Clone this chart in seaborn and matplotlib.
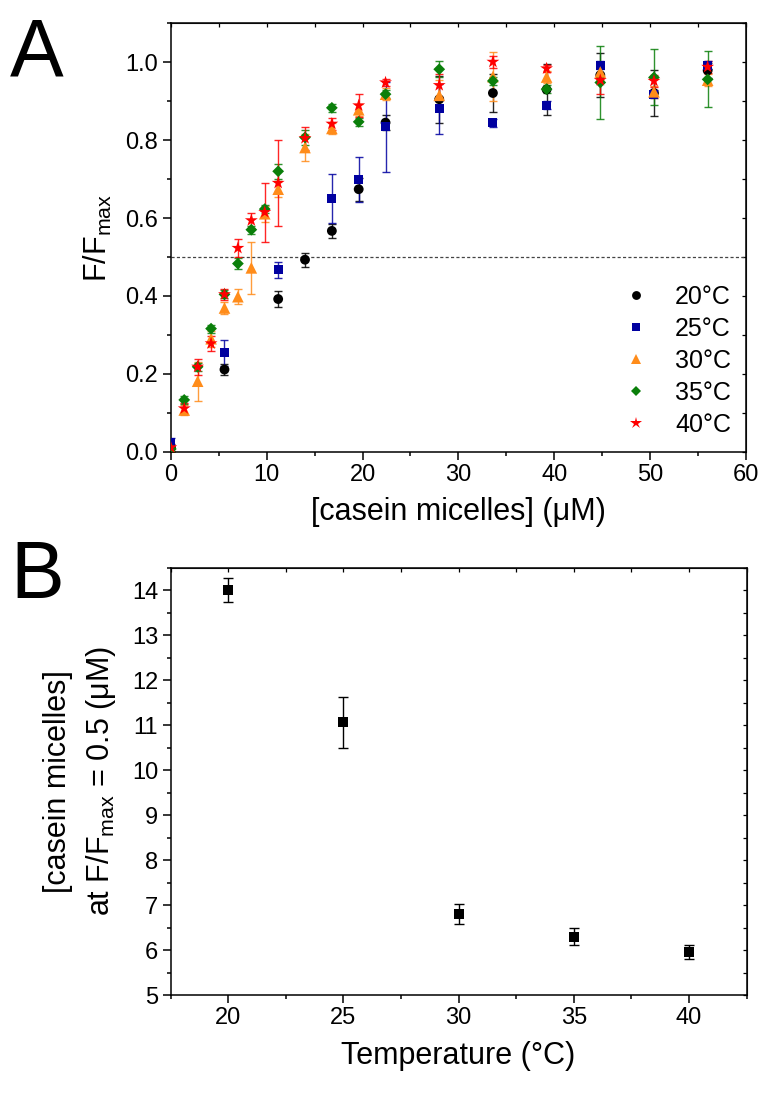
import numpy as np
import pandas as pd
import seaborn as sns
import matplotlib.pyplot as plt
from matplotlib.ticker import MultipleLocator

sns.set_style('ticks')
plt.rcParams['font.family'] = ['Liberation Sans', 'DejaVu Sans']
plt.rcParams['mathtext.fontset'] = 'custom'
plt.rcParams['mathtext.rm'] = 'Liberation Sans'
plt.rcParams['mathtext.it'] = 'Liberation Sans'
for k in ('text.color', 'axes.labelcolor', 'xtick.color', 'ytick.color'):
    plt.rcParams[k] = 'black'

# ---- panel A data: F/Fmax vs casein micelle concentration ----
conc_20 = [0, 5.6, 11.2, 14.0, 16.8, 19.6, 22.4, 28.0, 33.6, 39.2, 44.8, 50.4, 56.0]
f_20 = [0.01, 0.211, 0.392, 0.493, 0.567, 0.674, 0.845, 0.905, 0.921, 0.93, 0.967, 0.921, 0.979]
err_20 = [0.01, 0.015, 0.02, 0.018, 0.018, 0.03, 0.02, 0.06, 0.05, 0.065, 0.057, 0.06, 0.02]

conc_25 = [0, 5.6, 11.2, 16.8, 19.6, 22.4, 28.0, 33.6, 39.2, 44.8, 50.4, 56.0]
f_25 = [0.024, 0.254, 0.467, 0.65, 0.699, 0.834, 0.88, 0.845, 0.89, 0.992, 0.918, 0.992]
err_25 = [0.01, 0.034, 0.02, 0.062, 0.058, 0.115, 0.063, 0.01, 0.01, 0.01, 0.01, 0.01]

conc_30 = [0, 1.4, 2.8, 4.2, 5.6, 7.0, 8.4, 9.8, 11.2, 14.0, 16.8, 19.6, 22.4, 28.0, 33.6, 39.2, 44.8, 50.4, 56.0]
f_30 = [0.005, 0.107, 0.181, 0.29, 0.369, 0.398, 0.472, 0.611, 0.674, 0.781, 0.83, 0.878, 0.918, 0.915, 0.963, 0.962, 0.975, 0.924, 0.954]
err_30 = [0.005, 0.012, 0.05, 0.02, 0.015, 0.02, 0.066, 0.02, 0.02, 0.035, 0.015, 0.015, 0.015, 0.04, 0.063, 0.015, 0.02, 0.015, 0.015]

conc_35 = conc_30
f_35 = [0.007, 0.133, 0.218, 0.316, 0.404, 0.483, 0.57, 0.623, 0.72, 0.807, 0.883, 0.847, 0.918, 0.982, 0.952, 0.931, 0.948, 0.961, 0.956]
err_35 = [0.005, 0.01, 0.01, 0.01, 0.01, 0.015, 0.01, 0.01, 0.02, 0.02, 0.01, 0.01, 0.01, 0.02, 0.01, 0.01, 0.094, 0.072, 0.072]

conc_40 = conc_30
f_40 = [0.011, 0.111, 0.218, 0.278, 0.404, 0.523, 0.594, 0.615, 0.69, 0.805, 0.842, 0.889, 0.948, 0.941, 1.001, 0.984, 0.954, 0.952, 0.988]
err_40 = [0.005, 0.015, 0.02, 0.02, 0.015, 0.024, 0.02, 0.076, 0.11, 0.03, 0.015, 0.03, 0.01, 0.03, 0.015, 0.01, 0.035, 0.015, 0.015]

labels = ['20°C', '25°C', '30°C', '35°C', '40°C']
colors = ['#000000', '#0000a0', '#ff8c1a', '#0a7f0a', '#ff0000']
markers = ['o', 's', '^', 'D', '*']
msizes = [50, 42, 70, 36, 95]

# ---- panel B data: half-saturation concentration vs temperature ----
temps = [20, 25, 30, 35, 40]
half_conc = [14.0, 11.06, 6.8, 6.3, 5.96]
half_err = [0.26, 0.57, 0.22, 0.18, 0.16]

series = [(conc_20, f_20, err_20), (conc_25, f_25, err_25), (conc_30, f_30, err_30),
          (conc_35, f_35, err_35), (conc_40, f_40, err_40)]
frames = []
for lab, (c, f, e) in zip(labels, series):
    frames.append(pd.DataFrame({'conc': c, 'F': f, 'err': e, 'T': lab}))
df = pd.concat(frames, ignore_index=True)

fig = plt.figure(figsize=(7.64, 10.93), dpi=100)
W, H = 764, 1093
axA = fig.add_axes([170.8 / W, 1 - 451.7 / H, (746 - 170.8) / W, (451.7 - 23.3) / H])
axB = fig.add_axes([170.7 / W, 1 - 995 / H, (746.5 - 170.7) / W, (995 - 567.7) / H])

# panel A
for lab, col in zip(labels, colors):
    d = df[df['T'] == lab]
    axA.errorbar(d['conc'], d['F'], yerr=d['err'], fmt='none', ecolor=col, elinewidth=1,
                 capsize=3, capthick=1, alpha=0.85, zorder=2)
sns.scatterplot(data=df, x='conc', y='F', hue='T', style='T', size='T',
                palette=dict(zip(labels, colors)), markers=dict(zip(labels, markers)),
                sizes=dict(zip(labels, msizes)), linewidth=0, alpha=1, ax=axA, zorder=3)
axA.axhline(0.5, color='#444444', lw=0.9, ls=(0, (2.5, 1.8)), zorder=1)
axA.set_xlim(0, 60)
axA.set_ylim(0, 1.1)
axA.xaxis.set_major_locator(MultipleLocator(10))
axA.xaxis.set_minor_locator(MultipleLocator(5))
axA.yaxis.set_major_locator(MultipleLocator(0.2))
axA.yaxis.set_minor_locator(MultipleLocator(0.1))
axA.set_xlabel('[casein micelles] (μM)', fontsize=22, labelpad=8)
axA.set_ylabel('F/F$_{\\mathrm{max}}$', fontsize=22, labelpad=8)
sns.move_legend(axA, 'lower right', bbox_to_anchor=(1.0, 0.0), frameon=False, title=None,
                fontsize=18, labelspacing=0.32, handlelength=1.2, handletextpad=0.95,
                borderaxespad=0.2, markerscale=0.9)

# panel B
axB.errorbar(temps, half_conc, yerr=half_err, fmt='none', ecolor='black', elinewidth=1,
             capsize=3.5, capthick=1, zorder=2)
sns.scatterplot(x=temps, y=half_conc, marker='s', color='black', s=55, linewidth=0, ax=axB, zorder=3)
axB.set_xlim(17.5, 42.5)
axB.set_ylim(5, 14.5)
axB.xaxis.set_major_locator(MultipleLocator(5))
axB.xaxis.set_minor_locator(MultipleLocator(2.5))
axB.yaxis.set_major_locator(MultipleLocator(1))
axB.yaxis.set_minor_locator(MultipleLocator(0.5))
axB.set_xlabel('Temperature (°C)', fontsize=22, labelpad=8)
axB.set_ylabel('[casein micelles]\nat F/F$_{\\mathrm{max}}$ = 0.5 (μM)', fontsize=22, labelpad=10,
               linespacing=1.45)

for ax in (axA, axB):
    for sp in ax.spines.values():
        sp.set_linewidth(1.1)
        sp.set_color('black')
    ax.tick_params(which='major', direction='out', length=6, width=1.1, labelsize=17, pad=3)
    ax.tick_params(which='minor', direction='out', length=3, width=1.1)
    top = ax.secondary_xaxis('top')
    top.xaxis.set_major_locator(ax.xaxis.get_minor_locator())
    top.tick_params(direction='in', length=3, width=0.9, labeltop=False)
    right = ax.secondary_yaxis('right')
    right.yaxis.set_major_locator(ax.yaxis.get_minor_locator())
    right.tick_params(direction='in', length=3, width=0.9, labelright=False)

fig.text(10 / W, 1 - 75 / H, 'A', fontsize=58, va='baseline', ha='left')
fig.text(10 / W, 1 - 598 / H, 'B', fontsize=58, va='baseline', ha='left')

fig.savefig('out.png', dpi=100)
